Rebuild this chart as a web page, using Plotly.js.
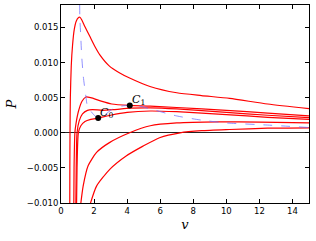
<!DOCTYPE html>
<html><head><meta charset="utf-8">
<script src="https://cdn.plot.ly/plotly-3.0.1.min.js"></script>
<style>html,body{margin:0;padding:0;background:#fff}#plot{width:316px;height:241px}</style>
</head><body><div id="plot"></div>
<script>
// Isotherms (v, P)
const t1_v = [0.53,0.535,0.545,0.565,0.62,0.70,0.80,0.92,1.05,1.14,1.25,1.45,1.75,2.05,2.35,2.93,3.5,4.15,5.38,7,8.5,10.2,12.5,15];
const t1_P = [-0.012,-0.005,0.0,0.005,0.0095,0.0125,0.0147,0.0159,0.0164,0.01645,0.0161,0.0151,0.0137,0.0123,0.0111,0.0095,0.0086,0.0078,0.0066,0.0057,0.0053,0.0049,0.0041,0.00345];

const a_v = [0.77,0.79,0.84,0.9,1.06,1.27,1.51,1.8,2.43,3.07,4.16,5.4,7,10,12.5,15];
const a_P = [-0.012,-0.005,0.0,0.0012,0.0031,0.0045,0.0051,0.0050,0.0045,0.0041,0.0039,0.0038,0.0036,0.0032,0.0028,0.0024];

const b_v = [0.89,0.92,0.97,1.1,1.3,1.6,1.9,2.5,3.2,4.2,5.4,7,10,12.5,15];
const b_P = [-0.012,-0.005,0.0,0.0017,0.0027,0.0032,0.0033,0.0032,0.0033,0.0035,0.00355,0.0034,0.0029,0.0025,0.00215];

const c_v = [0.93,0.97,1.05,1.2,1.45,1.8,2.25,3.0,4.0,5.4,7,10,12.5,15];
const c_P = [-0.012,-0.005,0.0,0.0010,0.0016,0.0019,0.0021,0.0025,0.0029,0.0031,0.0030,0.0026,0.0022,0.0019];

const d_v = [1.15,1.34,1.64,2.15,2.93,4.15,5.4,7,9.5,12,15];
const d_P = [-0.011,-0.0076,-0.0047,-0.0028,-0.0014,0.0,0.0010,0.0014,0.00155,0.00153,0.00142];

const e_v = [1.72,2.15,2.95,3.94,4.96,5.96,7.2,8.5,10.2,12.5,15];
const e_P = [-0.0105,-0.0076,-0.0052,-0.0033,-0.0019,-0.0007,0.0,0.0003,0.00047,0.00065,0.0007];

// Dashed locus
const s_v = [1.13,1.14,1.2,1.25,1.35,1.51,1.6,1.97,2.25,2.67,3.07,3.67,4.16,4.76,5.4,7,8.5,10,12.5,15];
const s_P = [0.0182,0.0164,0.0135,0.011,0.008,0.0051,0.0038,0.0026,0.0021,0.0026,0.0033,0.0038,0.0039,0.0038,0.0034,0.0024,0.0018,0.0014,0.0011,0.00075];

// Critical points
const crit_v = [2.25,4.16];
const crit_P = [0.0021,0.0039];
const crit_lbl = ['<i>C</i><sub>0</sub>','<i>C</i><sub>1</sub>'];

const xticks = [0,2,4,6,8,10,12,14];
const yticks = [-0.010,-0.005,0.000,0.005,0.010,0.015];

const red = {color:'#ff0000', width:1.2, shape:'spline', smoothing:0.6};
const curves = [[t1_v,t1_P],[a_v,a_P],[b_v,b_P],[c_v,c_P],[d_v,d_P],[e_v,e_P]];
const traces = curves.map(c => ({x:c[0], y:c[1], mode:'lines', line:red, hoverinfo:'skip'}));
traces.push({x:s_v, y:s_P, mode:'lines', line:{color:'rgba(110,110,255,0.75)', width:1, dash:'dash', shape:'spline', smoothing:0.6}});
traces.push({x:crit_v, y:crit_P, mode:'markers', marker:{color:'#000', size:6}});

const annotations = crit_v.map((v,i) => ({x:v, y:crit_P[i], xref:'x', yref:'y', text:crit_lbl[i], showarrow:false,
  xanchor:'left', yanchor:'bottom', xshift:0, yshift:-4, font:{family:'DejaVu Serif', size:11, color:'#000'}}));

const layout = {
  width:316, height:241, margin:{l:61, r:7, t:5, b:38},
  paper_bgcolor:'#fff', plot_bgcolor:'#fff', showlegend:false,
  font:{family:'DejaVu Sans', size:8.5, color:'#000'},
  xaxis:{range:[0,15], tickvals:xticks, ticktext:xticks.map(String), ticks:'inside', ticklen:4, tickcolor:'#000',
    showline:true, linecolor:'#000', linewidth:1, mirror:'ticks', showgrid:false, zeroline:false,
    title:{text:'<i>v</i>', font:{family:'DejaVu Serif', size:13}, standoff:4}},
  yaxis:{range:[-0.010,0.0182], tickvals:yticks, ticktext:yticks.map(t => (t<0?'\u2212':'')+Math.abs(t).toFixed(3)), ticks:'inside', ticklen:4, tickcolor:'#000',
    showline:true, linecolor:'#000', linewidth:1, mirror:'ticks', showgrid:false,
    zeroline:true, zerolinecolor:'#222', zerolinewidth:1,
    title:{text:'<i>P</i>', font:{family:'DejaVu Serif', size:13}, standoff:7}},
  annotations:annotations
};
Plotly.newPlot('plot', traces, layout, {staticPlot:true, displayModeBar:false});
</script></body></html>
